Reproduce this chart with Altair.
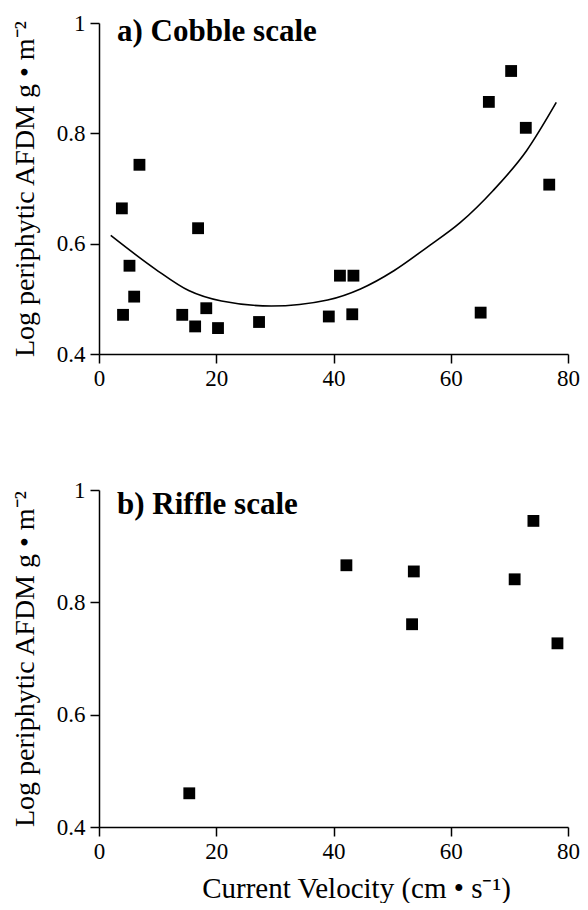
import altair as alt
import pandas as pd

# ---- data ----
cobble_x = [3.9, 6.9, 4.1, 5.2, 6.0, 16.9, 14.2, 16.4, 18.3, 20.3, 27.3,
            41.1, 43.4, 39.2, 43.2, 65.1, 66.5, 70.3, 72.8, 76.8]
cobble_y = [0.664, 0.743, 0.471, 0.560, 0.504, 0.628, 0.471, 0.450, 0.483, 0.447, 0.458,
            0.542, 0.542, 0.468, 0.472, 0.475, 0.857, 0.913, 0.810, 0.707]

fit_x = [2.0, 9.6, 15.3, 20.9, 29.4, 39.0, 44.6, 50.3, 55.9, 61.6, 67.2, 72.9, 78.0]
fit_y = [0.615, 0.554, 0.515, 0.496, 0.487, 0.498, 0.518, 0.551, 0.593, 0.638, 0.696, 0.768, 0.856]

riffle_x = [15.4, 42.2, 53.7, 53.4, 70.9, 74.1, 78.2]
riffle_y = [0.460, 0.866, 0.855, 0.761, 0.841, 0.945, 0.727]

x_ticks = [0, 20, 40, 60, 80]
y_ticks = [0.4, 0.6, 0.8, 1.0]

y_title = "Log periphytic AFDM g \u2022 m\u207b\u00b2"
x_title = "Current Velocity (cm \u2022 s\u207b\u00b9)"
title_a = "a)  Cobble scale"
title_b = "b) Riffle scale"

FONT = "Liberation Serif"
W = 469

cobble = pd.DataFrame({"v": cobble_x, "b": cobble_y})
fit = pd.DataFrame({"v": fit_x, "b": fit_y})
riffle = pd.DataFrame({"v": riffle_x, "b": riffle_y})

xs = alt.Scale(domain=[0, 80], nice=False, zero=False)
ys = alt.Scale(domain=[0.4, 1.0], nice=False, zero=False)


def xaxis(title):
    kw = dict(values=x_ticks, format="d", labelFlush=False)
    if title:
        kw.update(title=title, titleX=257)
    else:
        kw.update(title=None)
    return alt.Axis(**kw)


yaxis = alt.Axis(values=y_ticks, format="~g", title=y_title, labelFlush=False)


def panel(df, label, label_y, height, xtitle, curve=None):
    pts = alt.Chart(df).mark_point(shape="square", filled=True, color="black",
                                   size=140, opacity=1).encode(
        x=alt.X("v:Q", scale=xs, axis=xaxis(xtitle)),
        y=alt.Y("b:Q", scale=ys, axis=yaxis),
    )
    txt = alt.Chart(pd.DataFrame({"t": [label]})).mark_text(
        align="left", baseline="alphabetic", font=FONT, fontSize=31,
        fontWeight="bold", color="black"
    ).encode(text="t:N", x=alt.value(18), y=alt.value(label_y))
    layers = [pts, txt]
    if curve is not None:
        ln = alt.Chart(curve).mark_line(color="black", strokeWidth=1.6,
                                        interpolate="monotone").encode(
            x=alt.X("v:Q", scale=xs), y=alt.Y("b:Q", scale=ys))
        layers = [ln] + layers
    return alt.layer(*layers).properties(width=W, height=height)


top = panel(cobble, title_a, 18, 331, None, fit)
bottom = panel(riffle, title_b, 24, 337, x_title)

chart = alt.vconcat(top, bottom, spacing=89).properties(
    padding={"left": 3, "top": 4, "right": 0, "bottom": 0}
).configure_view(stroke=None).configure_axis(
    grid=False,
    domainColor="black", domainWidth=1.5,
    tickColor="black", tickWidth=1.5, tickSize=9,
    labelFont=FONT, labelFontSize=23, labelColor="black", labelPadding=5,
    titleFont=FONT, titleFontSize=28, titleFontWeight="normal", titleColor="black",
).configure_axisY(titlePadding=16.5).configure_axisX(
    titlePadding=11, labelPadding=4, titleFontSize=29)

chart.save("out.html", embed_options={"renderer": "svg", "actions": False})
